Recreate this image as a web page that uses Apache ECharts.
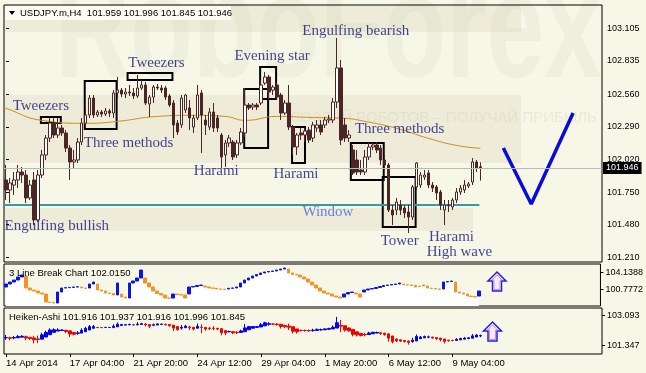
<!DOCTYPE html>
<html><head><meta charset="utf-8">
<script src="https://cdn.jsdelivr.net/npm/echarts@6/dist/echarts.min.js"></script>
<style>html,body{margin:0;padding:0;background:#f7f7e8;}#c{width:646px;height:373px;}</style>
</head><body><div id="c"></div><script>
// ---------- data ----------
const timeLabels = ['14 Apr 2014','17 Apr 04:00','21 Apr 20:00','24 Apr 12:00','29 Apr 04:00','1 May 20:00','6 May 12:00','9 May 04:00'];
const barsPerLabel = 16;
const slotCount = 150;
const priceTicks = ['103.105','102.835','102.560','102.290','102.020','101.750','101.480','101.210'];
const lbTicks = ['104.1388','100.7772'];
const haTicks = ['103.093','101.347'];
const header = 'USDJPY.m,H4  101.959 101.996 101.845 101.946';
const lbTitle = '3 Line Break Chart 102.0150';
const haTitle = 'Heiken-Ashi 101.916 101.937 101.916 101.996 101.845';
const lastPrice = 101.946;
const windowLevel = 101.643;
// [open, close, low, high]
const candles = [
[101.850,101.767,101.684,101.974],[101.767,101.825,101.659,101.866],[101.808,101.850,101.726,101.916],[101.850,101.916,101.783,101.974],
[101.916,101.891,101.825,101.957],[101.891,101.701,101.659,101.932],[101.701,101.808,101.684,101.850],[101.850,101.519,101.477,101.916],
[101.519,101.891,101.502,101.932],[101.891,102.057,101.866,102.098],[102.057,102.197,102.015,102.222],[102.197,102.321,102.164,102.363],
[102.321,102.222,102.197,102.363],[102.222,102.280,102.197,102.363],[102.280,102.239,102.214,102.305],[102.239,102.114,102.081,102.263],
[102.114,101.999,101.850,102.139],[101.999,102.015,101.949,102.098],[102.015,102.164,101.990,102.197],[102.164,102.321,102.139,102.363],
[102.321,102.388,102.280,102.446],[102.388,102.528,102.363,102.553],[102.528,102.388,102.363,102.553],[102.388,102.412,102.371,102.429],
[102.412,102.396,102.371,102.429],[102.396,102.421,102.379,102.446],[102.421,102.404,102.371,102.437],[102.404,102.570,102.363,102.594],
[102.570,102.594,102.528,102.702],[102.594,102.561,102.536,102.611],[102.561,102.578,102.528,102.611],[102.578,102.570,102.545,102.636],
[102.570,102.545,102.520,102.611],[102.545,102.611,102.528,102.719],[102.611,102.636,102.594,102.677],[102.636,102.487,102.470,102.661],
[102.479,102.536,102.371,102.553],[102.536,102.619,102.487,102.636],[102.619,102.611,102.594,102.644],[102.611,102.594,102.570,102.636],
[102.611,102.536,102.512,102.628],[102.545,102.470,102.454,102.561],[102.487,102.305,102.197,102.512],[102.321,102.247,102.222,102.346],
[102.305,102.528,102.280,102.553],[102.429,102.553,102.404,102.561],[102.446,102.363,102.263,102.512],[102.288,102.363,102.239,102.388],
[102.363,102.553,102.346,102.636],[102.570,102.388,102.073,102.594],[102.346,102.305,102.222,102.388],[102.288,102.412,102.263,102.446],
[102.412,102.280,102.247,102.487],[102.363,102.280,102.247,102.388],[102.222,102.040,101.949,102.239],[102.057,102.156,101.957,102.181],
[102.156,102.197,102.123,102.222],[102.164,102.040,102.015,102.181],[102.057,102.156,102.032,102.181],[102.156,102.247,102.139,102.280],
[102.239,102.470,102.206,102.611],[102.470,102.446,102.429,102.487],[102.454,102.470,102.429,102.487],[102.470,102.454,102.429,102.487],
[102.487,102.636,102.470,102.677],[102.652,102.702,102.636,102.743],[102.702,102.578,102.512,102.719],[102.594,102.619,102.553,102.636],
[102.636,102.536,102.512,102.652],[102.553,102.404,102.346,102.570],[102.404,102.487,102.388,102.512],[102.487,102.288,102.263,102.636],
[102.288,102.123,102.057,102.305],[102.123,102.222,102.057,102.239],[102.239,102.222,102.181,102.280],[102.222,102.255,102.164,102.280],
[102.263,102.181,102.156,102.288],[102.197,102.305,102.164,102.330],[102.280,102.305,102.247,102.346],[102.305,102.247,102.222,102.346],
[102.305,102.346,102.280,102.371],[102.346,102.354,102.321,102.388],[102.346,102.495,102.321,102.528],[102.495,102.777,102.446,103.025],
[102.777,102.181,102.139,102.843],[102.305,102.197,102.164,102.363],[102.197,102.222,102.164,102.263],[102.098,101.908,101.891,102.139],
[102.015,101.916,101.891,102.098],[101.932,101.916,101.891,102.015],[101.916,102.040,101.891,102.098],[102.040,102.123,102.015,102.156],
[102.123,102.139,102.098,102.156],[102.139,102.098,102.073,102.164],[102.114,102.015,101.974,102.139],[102.015,101.974,101.932,102.057],
[101.974,101.601,101.585,101.990],[101.601,101.560,101.477,101.643],[101.601,101.668,101.560,101.701],[101.643,101.601,101.560,101.684],
[101.618,101.577,101.535,101.643],[101.585,101.543,101.411,101.643],[101.543,101.792,101.519,101.808],[101.792,101.990,101.767,101.999],
[101.808,101.891,101.783,101.916],[101.874,101.891,101.850,101.932],[101.908,101.808,101.783,101.932],[101.808,101.783,101.750,101.833],
[101.792,101.742,101.684,101.808],[101.750,101.643,101.601,101.767],[101.601,101.643,101.477,101.684],[101.643,101.635,101.585,101.684],
[101.626,101.684,101.601,101.701],[101.684,101.750,101.659,101.783],[101.750,101.783,101.726,101.808],[101.767,101.808,101.742,101.850],
[101.800,101.817,101.783,101.833],[101.833,101.999,101.808,102.032],[101.999,101.949,101.916,102.015],[101.959,101.946,101.845,101.996]
];
// moving average read at a few bar positions [bar, price]
const maPoints = [[-0.5,102.45],[0,102.443],[9,102.343],[20,102.319],[28,102.335],[38,102.376],[47,102.385],[55,102.376],[60,102.343],[68,102.376],[76,102.368],[85,102.360],[90,102.335],[98,102.277],[106,102.194],[113,102.136],[119,102.112]];
// 3 line break bricks
const lbOpen = [101.2,101.8,102.2,102.6,103.2,103.4,101.0,100.6,100.4,100.0,99.8,98.2,98.1,98.0,100.2,101.0,101.06,101.12,101.2,101.2,
101.0,101.0,101.8,101.8,100.6,100.4,100.0,99.9,99.6,99.8,99.2,99.0,102.0,102.4,103.0,103.0,102.0,101.2,100.4,99.9,
99.6,99.0,99.0,99.8,99.7,99.6,99.8,101.2,101.3,101.5,101.4,101.2,101.0,100.94,100.8,100.74,100.8,100.94,101.0,101.2,
102.0,102.6,103.0,103.4,103.7,104.0,104.2,104.3,104.4,104.6,104.8,104.8,104.0,103.7,103.6,103.2,102.8,102.2,101.6,101.0,
100.4,100.0,99.8,99.4,99.2,99.2,99.8,100.1,100.0,99.8,100.2,100.6,100.8,100.9,101.1,101.3,101.5,101.6,101.7,101.8,
101.8,101.64,101.6,101.5,101.4,101.6,101.4,101.0,100.9,100.8,100.8,102.2,102.3,102.2,100.2,100.0,99.8,99.4,99.3,99.4];
const lbClose = [101.8,102.2,102.6,103.2,103.6,101.0,100.6,100.4,100.0,99.8,98.2,98.1,98.0,100.2,101.0,101.06,101.12,101.2,101.24,101.0,
100.94,101.8,102.2,100.6,100.4,100.0,99.9,99.6,102.0,99.2,99.0,102.0,102.4,103.0,104.6,102.0,101.2,100.4,99.9,99.6,
99.0,98.94,99.8,99.7,99.6,99.0,101.2,101.3,101.5,101.6,101.2,101.0,100.94,100.8,100.74,100.7,100.94,101.0,101.2,102.0,
102.6,103.0,103.4,103.7,104.0,104.2,104.3,104.4,104.6,104.8,105.0,104.0,103.7,103.6,103.2,102.8,102.2,101.6,101.0,100.4,
100.0,99.8,99.4,99.2,99.0,99.8,100.1,100.2,99.8,99.2,100.6,100.8,100.9,101.1,101.3,101.5,101.6,101.7,101.8,102.0,
101.64,101.6,101.5,101.2,101.3,101.4,101.0,100.9,100.8,100.74,102.2,102.3,102.4,100.2,100.0,99.8,99.4,99.3,99.2,100.4];
// hand-drawn forecast "V" [bar, price]
const vPath = [[124.75,102.114],[131.75,101.651],[142.25,102.404]];
// pattern boxes [bar1, price1, bar2, price2]
const boxes = [
 [8.75,102.371,13.75,102.321],[19.75,102.669,27.75,102.272],[30.5,102.735,41.75,102.677],
 [59.75,102.603,65.75,102.114],[63.75,102.785,67.75,102.520],[71.75,102.288,75,101.990],
 [86.5,102.156,94.75,101.850],[94.5,101.875,102.75,101.461]
];
// pattern names [text, bar, price]
const notes = [
 ['Tweezers',8.75,102.462],['Tweezers',37.75,102.818],['Three methods',30.75,102.156],
 ['Engulfing bullish',12.75,101.469],['Evening star',66.75,102.876],['Engulfing bearish',87.75,103.083],
 ['Harami',52.75,101.924],['Harami',72.75,101.899],['Three methods',98.75,102.272],
 ['Window',80.75,101.585],['Tower',98.75,101.345],['Harami',111.75,101.378],['High wave',113.75,101.254]
];

// ---------- build ----------
const cats = Array.from({length: slotCount}, (_, i) => String(i));
const labelIdx = (i) => i % barsPerLabel === 0 && i / barsPerLabel < timeLabels.length;
// Heiken-Ashi transform of the candles
const ha = [];
candles.forEach((k, i) => {
  const [o, c, l, h] = k;
  const hc = (o + c + l + h) / 4;
  const ho = i === 0 ? (o + c) / 2 : (ha[i-1][0] + ha[i-1][1]) / 2;
  ha.push([ho, hc, Math.min(l, ho, hc), Math.max(h, ho, hc)]);
});
const lbData = lbOpen.map((o, i) => [o, lbClose[i], Math.min(o, lbClose[i]), Math.max(o, lbClose[i])]);
const lbTop = lbData.map(d => d[3]);

const serif = 'Liberation Serif, Times New Roman, serif';
const sans = 'Liberation Sans, Arial, sans-serif';
const hidX = {axisLine:{show:false}, axisTick:{show:false}, axisLabel:{show:false}, splitLine:{show:false}};

const chart = echarts.init(document.getElementById('c'), null, {renderer:'canvas', width:646, height:373});
const option = {
  animation:false,
  backgroundColor:'#f7f7e8',
  grid:[
    {left:4, top:5, width:598, height:257, show:true, borderColor:'#000', borderWidth:1, backgroundColor:'transparent'},
    {left:4, top:264, width:598, height:42, show:true, borderColor:'#000', borderWidth:1, backgroundColor:'transparent'},
    {left:4, top:308, width:598, height:46, show:true, borderColor:'#000', borderWidth:1, backgroundColor:'transparent'}
  ],
  xAxis:[
    Object.assign({type:'category', gridIndex:0, data:cats, boundaryGap:true}, hidX),
    Object.assign({type:'category', gridIndex:1, data:cats, boundaryGap:true}, hidX),
    {type:'category', gridIndex:2, data:cats, boundaryGap:true, position:'bottom',
     axisLine:{show:false}, splitLine:{show:false},
     axisTick:{show:true, alignWithLabel:true, interval:labelIdx, length:3, lineStyle:{color:'#000'}},
     axisLabel:{show:true, interval:labelIdx, align:'left', margin:4, color:'#000', fontFamily:sans, fontSize:9.5,
       formatter:(v, i) => labelIdx(i) ? timeLabels[i / barsPerLabel] : ''}},
    {type:'value', gridIndex:0, min:-0.5, max:slotCount - 0.5, show:false}
  ],
  yAxis:[
    {type:'value', gridIndex:0, position:'right', min:101.171, max:103.298, splitLine:{show:false}, axisLine:{show:false},
     axisTick:{show:true, length:3, customValues:priceTicks.map(Number), lineStyle:{color:'#000'}},
     axisLabel:{customValues:priceTicks.map(Number), formatter:v => v.toFixed(3), margin:5, color:'#000', fontFamily:sans, fontSize:9}},
    {type:'value', gridIndex:1, position:'right', min:97.4, max:105.8, splitLine:{show:false}, axisLine:{show:false},
     axisTick:{show:true, length:3, customValues:lbTicks.map(Number), lineStyle:{color:'#000'}},
     axisLabel:{customValues:lbTicks.map(Number), formatter:v => v.toFixed(4), margin:5, color:'#000', fontFamily:sans, fontSize:9}},
    {type:'value', gridIndex:2, position:'right', min:100.864, max:103.541, splitLine:{show:false}, axisLine:{show:false},
     axisTick:{show:true, length:3, customValues:haTicks.map(Number), lineStyle:{color:'#000'}},
     axisLabel:{customValues:haTicks.map(Number), formatter:v => v.toFixed(3), margin:5, color:'#000', fontFamily:sans, fontSize:9}}
  ],
  graphic:[
    // RoboForex watermark bands and lettering (background decoration)
    {type:'rect', z:-10, silent:true, shape:{x:5, y:6, width:516, height:26}, style:{fill:'#eeecd8'}},
    {type:'rect', z:-10, silent:true, shape:{x:5, y:95, width:516, height:68}, style:{fill:'#eeecd8'}},
    {type:'rect', z:-10, silent:true, shape:{x:5, y:208, width:468, height:23}, style:{fill:'#eeecd8'}},
    {type:'text', z:-9, silent:true, x:55, y:110, scaleX:0.7, style:{text:'RoboForex', font:'bold 148px ' + sans, fill:'rgba(200,198,170,0.16)', textVerticalAlign:'bottom'}},
    {type:'text', z:-9, silent:true, x:290, y:118, style:{text:'СОЗДАЙ РОБОТОВ – ПОЛУЧАЙ ПРИБЫЛЬ', font:'15px ' + sans, fill:'rgba(200,198,170,0.28)', textVerticalAlign:'middle'}},
    // header
    {type:'rect', z:5, shape:{x:5, y:6, width:226, height:14}, style:{fill:'#fbfbf2'}},
    {type:'polygon', z:6, shape:{points:[[9,11],[15,11],[12,15]]}, style:{fill:'#000'}},
    {type:'text', z:6, x:20, y:13, style:{text:header, font:'9.5px ' + sans, fill:'#000', textVerticalAlign:'middle'}},
    {type:'text', z:6, x:9, y:273, style:{text:lbTitle, font:'9.5px ' + sans, fill:'#000', textVerticalAlign:'middle'}},
    {type:'text', z:6, x:9, y:317, style:{text:haTitle, font:'9.5px ' + sans, fill:'#000', textVerticalAlign:'middle'}},
    // arrows
    {type:'polygon', z:6, shape:{points:[[497,272],[506,281],[501.5,281],[501.5,291],[492.5,291],[492.5,281],[488,281]]}, style:{fill:'#f3ecf6', stroke:'#2323e0', lineWidth:1.5}},
    {type:'polygon', z:6, shape:{points:[[497,275],[502,280],[500,280],[500,289.5],[494,289.5],[494,280],[492,280]]}, style:{fill:'none', stroke:'#d08ad8', lineWidth:1}},
    {type:'polygon', z:6, shape:{points:[[492.5,322],[501.5,331],[497,331],[497,341],[488,341],[488,331],[483.5,331]]}, style:{fill:'#f3ecf6', stroke:'#2323e0', lineWidth:1.5}},
    {type:'polygon', z:6, shape:{points:[[492.5,325],[497.5,330],[495.5,330],[495.5,339.5],[489.5,339.5],[489.5,330],[487.5,330]]}, style:{fill:'none', stroke:'#d08ad8', lineWidth:1}}
  ],
  series:[
    {type:'candlestick', xAxisIndex:0, yAxisIndex:0, data:candles, barWidth:3,
     itemStyle:{color:'#ffffff', color0:'#4b2626', borderColor:'#4b2626', borderColor0:'#4b2626', borderWidth:1},
     markLine:{silent:true, symbol:'none', data:[{yAxis:lastPrice}], lineStyle:{color:'#b8b8b8', type:'solid', width:1},
       label:{position:'end', distance:1, formatter:() => lastPrice.toFixed(3), backgroundColor:'#000', color:'#fff', padding:[2,3,1,3], fontFamily:sans, fontSize:9}}},
    {type:'line', xAxisIndex:3, yAxisIndex:0, data:maPoints, smooth:true, symbol:'none', lineStyle:{color:'#c8901e', width:1}, z:1},
    {type:'line', xAxisIndex:3, yAxisIndex:0, data:[[-0.5, windowLevel],[118.75, windowLevel]], symbol:'none', lineStyle:{color:'#3a9aa2', width:2}, z:1},
    {type:'line', xAxisIndex:3, yAxisIndex:0, data:vPath, symbol:'none', lineStyle:{color:'#0b0bd8', width:3.5},
     markArea:{silent:true, itemStyle:{color:'rgba(0,0,0,0)', borderColor:'#000', borderWidth:2},
       data:boxes.map(b => [{coord:[b[0], b[1]]}, {coord:[b[2], b[3]]}])}},
    {type:'scatter', xAxisIndex:3, yAxisIndex:0, symbolSize:1, itemStyle:{color:'rgba(0,0,0,0)'}, z:8,
     data:notes.map(n => ({value:[n[1], n[2], n[0]], label:{color: n[0] === 'Window' ? '#4466e0' : '#14147a'}})),
     label:{show:true, position:'inside', formatter:p => p.value[2], fontFamily:serif, fontSize:15}},
    {type:'line', xAxisIndex:1, yAxisIndex:1, data:lbTop, step:'middle', symbol:'none', lineStyle:{width:0}, areaStyle:{color:'#ffffff', origin:'start', opacity:1}, z:1},
    {type:'candlestick', xAxisIndex:1, yAxisIndex:1, data:lbData, barWidth:3,
     itemStyle:{color:'#0a14e8', color0:'#f39422', borderColor:'#0a14e8', borderColor0:'#f39422', borderWidth:1}},
    {type:'candlestick', xAxisIndex:2, yAxisIndex:2, data:ha, barWidth:3,
     itemStyle:{color:'#0000f0', color0:'#f00000', borderColor:'#0000f0', borderColor0:'#f00000', borderWidth:1}}
  ]
};
chart.setOption(option);
</script></body></html>
